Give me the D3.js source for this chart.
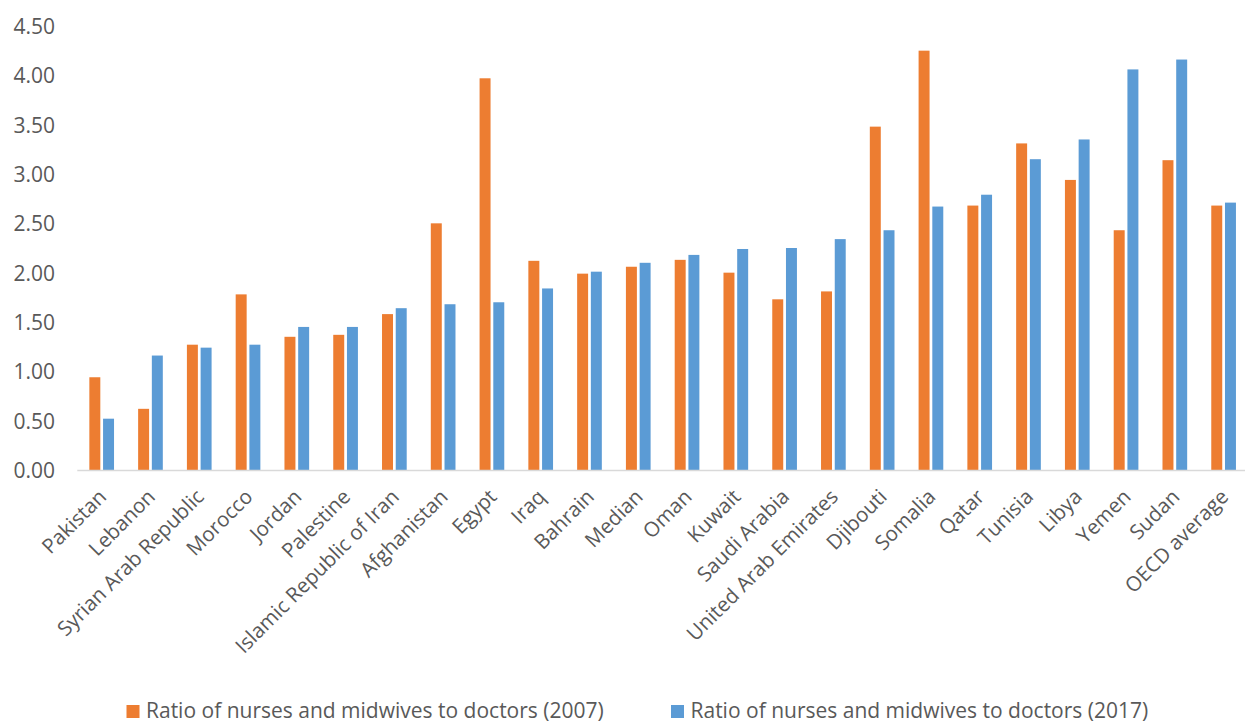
<!DOCTYPE html>
<html>
<head>
<meta charset="utf-8">
<script src="https://cdn.jsdelivr.net/npm/d3@7"></script>
<style>
    html, body {
        margin: 0;
        padding: 0;
        background: #ffffff;
    }
    #chart text {
        font-family: "Open Sans", "DejaVu Sans", sans-serif;
        fill: #595959;
    }
</style>
</head>
<body>
<div id="chart"></div>
<script>

var categories = ["Pakistan", "Lebanon", "Syrian Arab Republic", "Morocco", "Jordan", "Palestine",
    "Islamic Republic of Iran", "Afghanistan", "Egypt", "Iraq", "Bahrain", "Median", "Oman", "Kuwait",
    "Saudi Arabia", "United Arab Emirates", "Djibouti", "Somalia", "Qatar", "Tunisia", "Libya", "Yemen",
    "Sudan", "OECD average"];

var ratio2007 = [0.94, 0.62, 1.27, 1.78, 1.35, 1.37, 1.58, 2.50, 3.97, 2.12, 1.99, 2.06, 2.13, 2.00,
    1.73, 1.81, 3.48, 4.25, 2.68, 3.31, 2.94, 2.43, 3.14, 2.68];

var ratio2017 = [0.52, 1.16, 1.24, 1.27, 1.45, 1.45, 1.64, 1.68, 1.70, 1.84, 2.01, 2.10, 2.18, 2.24,
    2.25, 2.34, 2.43, 2.67, 2.79, 3.15, 3.35, 4.06, 4.16, 2.71];

var seriesNames = ["Ratio of nurses and midwives to doctors (2007)",
    "Ratio of nurses and midwives to doctors (2017)"];

var seriesColors = ["#ED7D31", "#5B9BD5"];

var yTicks = [0, 0.5, 1, 1.5, 2, 2.5, 3, 3.5, 4, 4.5];

function drawChart() {

    var width = 1245;
    var height = 722;
    var left = 77.3;
    var right = 1248;
    var baseline = 470;
    var top = 26;

    var svg = d3.select("#chart").append("svg")
        .attr("width", width)
        .attr("height", height);

    var x0 = d3.scaleBand()
        .domain(categories)
        .range([left, right])
        .paddingInner(0.494)
        .paddingOuter(0.247);

    var x1 = d3.scaleBand()
        .domain([0, 1])
        .range([0, x0.bandwidth()])
        .paddingInner(0.2);

    var y = d3.scaleLinear()
        .domain([0, 4.5])
        .range([baseline, top]);

    // y-Achse nur Beschriftung, keine Linie
    var yAxis = d3.axisLeft(y)
        .tickValues(yTicks)
        .tickSize(0)
        .tickPadding(0)
        .tickFormat(d3.format(".2f"));

    var yG = svg.append("g")
        .attr("transform", "translate(55,0)")
        .call(yAxis);
    yG.select(".domain").remove();
    yG.selectAll("text")
        .style("font-size", "21px")
        .attr("dy", "0.36em");

    var rows = categories.map(function (c, i) {
        return {name: c, values: [ratio2007[i], ratio2017[i]]};
    });

    var groups = svg.append("g").selectAll("g")
        .data(rows)
        .enter().append("g")
        .attr("transform", function (d) {
            return "translate(" + x0(d.name) + ",0)";
        });

    groups.selectAll("rect")
        .data(function (d) {
            return d.values.map(function (v, k) {
                return {k: k, v: v};
            });
        })
        .enter().append("rect")
        .attr("x", function (d) { return x1(d.k); })
        .attr("width", x1.bandwidth())
        .attr("y", function (d) { return y(d.v); })
        .attr("height", function (d) { return baseline - y(d.v); })
        .attr("fill", function (d) { return seriesColors[d.k]; });

    // x-Achse
    svg.append("line")
        .attr("x1", left)
        .attr("x2", width)
        .attr("y1", baseline + 0.5)
        .attr("y2", baseline + 0.5)
        .attr("stroke", "#d9d9d9")
        .attr("stroke-width", 1.5);

    function labelX(d) {
        return x0(d) + x0.bandwidth() / 2 + 6;
    }

    svg.append("g").selectAll("text")
        .data(categories)
        .enter().append("text")
        .attr("x", labelX)
        .attr("y", baseline + 28)
        .attr("transform", function (d) {
            return "rotate(-45," + labelX(d) + "," + (baseline + 28) + ")";
        })
        .style("text-anchor", "end")
        .style("font-size", "20.5px")
        .text(function (d) { return d; });

    // Legende
    var legendX = [126.5, 671];
    var legend = svg.append("g").selectAll("g")
        .data(seriesNames)
        .enter().append("g")
        .attr("transform", function (d, i) {
            return "translate(" + legendX[i] + ",705)";
        });

    legend.append("rect")
        .attr("width", 13)
        .attr("height", 13)
        .attr("fill", function (d, i) { return seriesColors[i]; });

    legend.append("text")
        .attr("x", 19.5)
        .attr("y", 12.5)
        .style("font-size", "21px")
        .text(function (d) { return d; });
}

drawChart();
</script>
</body>
</html>
